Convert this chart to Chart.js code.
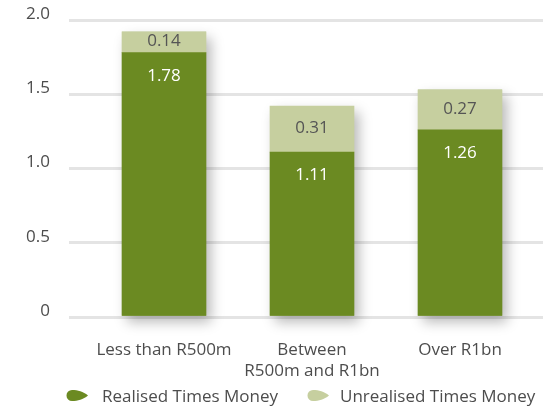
<!DOCTYPE html>
<html>
<head>
<meta charset="utf-8">
<script src="https://cdn.jsdelivr.net/npm/chart.js@4.4.1/dist/chart.umd.min.js"></script>
<style>
  html, body { margin: 0; padding: 0; background: #ffffff; }
  #wrap { width: 543px; height: 408px; position: relative; }
</style>
</head>
<body>
<div id="wrap"><canvas id="chart"></canvas></div>
<script>
// Categories (multi-line labels are arrays)
const categories = [
  'Less than R500m',
  ['Between', 'R500m and R1bn'],
  'Over R1bn'
];
const realised = [1.78, 1.11, 1.26];
const unrealised = [0.14, 0.31, 0.27];
const yTickLabels = ['0', '0.5', '1.0', '1.5', '2.0'];

const seriesNames = ['Realised Times Money', 'Unrealised Times Money'];
const DARK_GREEN = '#6b8a22';
const LIGHT_GREEN = '#c6cf9f';
const GRID = '#e4e4e4';
const TEXT = '#4d4d4d';
const FONT = "'Open Sans', sans-serif";
const FONT_SIZE = 17;

// Teardrop marker: round on the left, pointed on the right
function drawLeaf(g, cx, cy, color) {
  g.save();
  g.translate(cx - 11, cy - 5.5);
  g.fillStyle = color;
  g.beginPath();
  g.moveTo(22, 5.5);
  g.bezierCurveTo(17, 1.5, 12, 0, 6, 0);
  g.arc(6, 5.5, 5.5, -Math.PI / 2, Math.PI / 2, true);
  g.bezierCurveTo(12, 11, 17, 9.5, 22, 5.5);
  g.closePath();
  g.fill();
  g.restore();
}

// Soft drop shadow behind each full stack
const stackShadow = {
  id: 'stackShadow',
  beforeDatasetsDraw(chart) {
    const ctx = chart.ctx;
    const lower = chart.getDatasetMeta(0).data;
    const upper = chart.getDatasetMeta(1).data;
    ctx.save();
    ctx.shadowColor = 'rgba(0,0,0,0.28)';
    ctx.shadowBlur = 12;
    ctx.shadowOffsetX = 5;
    ctx.shadowOffsetY = 6;
    ctx.fillStyle = DARK_GREEN;
    lower.forEach((el, i) => {
      const top = upper[i].y;
      const bottom = el.base;
      ctx.fillRect(el.x - el.width / 2, top, el.width, bottom - top);
    });
    ctx.restore();
  }
};

// Value labels inside the segments
const valueLabels = {
  id: 'valueLabels',
  afterDatasetsDraw(chart) {
    const ctx = chart.ctx;
    ctx.save();
    ctx.font = FONT_SIZE + 'px ' + FONT;
    ctx.textAlign = 'center';
    ctx.textBaseline = 'middle';
    chart.getDatasetMeta(0).data.forEach((el, i) => {
      ctx.fillStyle = '#ffffff';
      ctx.fillText(realised[i].toFixed(2), el.x, el.y + 23);
    });
    chart.getDatasetMeta(1).data.forEach((el, i) => {
      ctx.fillStyle = '#555555';
      ctx.fillText(unrealised[i].toFixed(2), el.x, (el.y + el.base) / 2 - 1);
    });
    ctx.restore();
  }
};

// Legend row along the bottom edge
const legendRow = {
  id: 'legendRow',
  afterDraw(chart) {
    const ctx = chart.ctx;
    const items = [
      { marker: 77, text: 102 },
      { marker: 318, text: 340 }
    ];
    const y = 397;
    ctx.save();
    ctx.font = FONT_SIZE + 'px ' + FONT;
    ctx.textAlign = 'left';
    ctx.textBaseline = 'middle';
    chart.data.datasets.forEach((ds, i) => {
      drawLeaf(ctx, items[i].marker, y - 1.5, ds.backgroundColor);
      ctx.fillStyle = TEXT;
      ctx.fillText(ds.label, items[i].text, y);
    });
    ctx.restore();
  }
};

new Chart(document.getElementById('chart'), {
  type: 'bar',
  data: {
    labels: categories,
    datasets: [
      { label: seriesNames[0], data: realised, backgroundColor: DARK_GREEN },
      { label: seriesNames[1], data: unrealised, backgroundColor: LIGHT_GREEN }
    ]
  },
  options: {
    responsive: true,
    maintainAspectRatio: false,
    animation: false,
    events: [],
    layout: { padding: { top: 20, right: 0, left: 0, bottom: 0 } },
    datasets: { bar: { barThickness: 84 } },
    scales: {
      x: {
        stacked: true,
        afterFit(scale) { scale.height = 91; },
        grid: { display: false },
        border: { display: false },
        ticks: { color: TEXT, font: { family: FONT, size: FONT_SIZE, lineHeight: 1.24 }, padding: 15, maxRotation: 0 }
      },
      y: {
        stacked: true,
        min: 0,
        max: 2,
        afterFit(scale) {
          scale.width = 90;
          scale.paddingTop = 0;
          scale.paddingBottom = 0;
        },
        border: { display: false },
        grid: { color: GRID, lineWidth: 3, drawTicks: true, tickLength: 21, tickColor: GRID },
        ticks: {
          stepSize: 0.5,
          padding: 19,
          labelOffset: -6,
          color: TEXT,
          font: { family: FONT, size: FONT_SIZE },
          callback: (v, i) => yTickLabels[i]
        }
      },
      // right-hand stub that carries the gridlines to the edge
      yEdge: {
        position: 'right',
        min: 0,
        max: 2,
        afterFit(scale) {
          scale.width = 9;
          scale.paddingTop = 0;
          scale.paddingBottom = 0;
        },
        border: { display: false },
        grid: { drawOnChartArea: false, lineWidth: 3, drawTicks: true, tickLength: 9, tickColor: GRID },
        ticks: { stepSize: 0.5, display: false }
      }
    },
    plugins: {
      tooltip: { enabled: false },
      legend: { display: false }
    }
  },
  plugins: [stackShadow, valueLabels, legendRow]
});
</script>
</body>
</html>
